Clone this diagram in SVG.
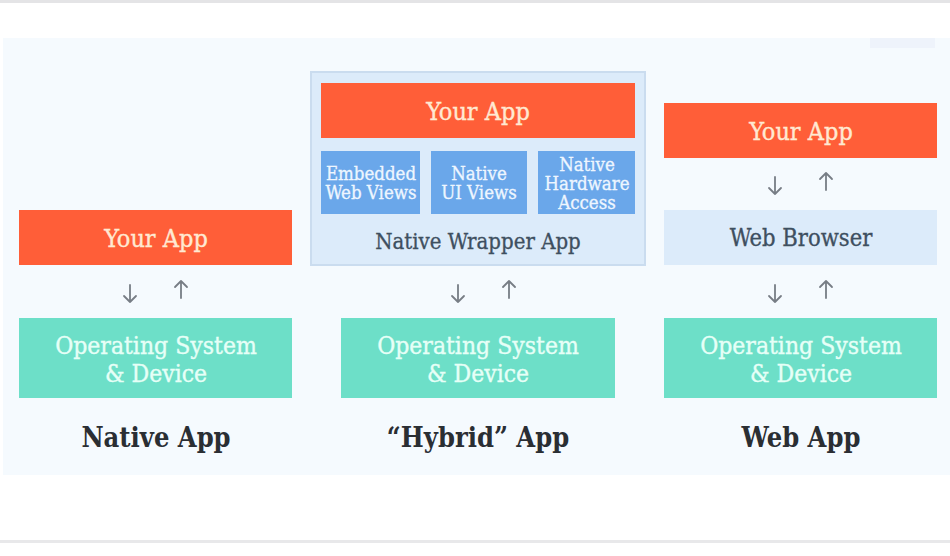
<svg xmlns="http://www.w3.org/2000/svg" width="950" height="556" viewBox="0 0 950 556">
<style>
.t{font-family:"DejaVu Serif Condensed","DejaVu Serif",serif;text-anchor:middle}
.app{fill:#ff5e38}
.appt{fill:#ffe9d2;stroke:#ffe9d2;stroke-width:0.35;font-size:25px}
.os{fill:#6ddfc8}
.ost{fill:#e6fff7;stroke:#e6fff7;stroke-width:0.35;font-size:24.5px}
.lt{fill:#dcebfa}
.ltt{fill:#3e4f60;stroke:#3e4f60;stroke-width:0.3;font-size:22px}
.bl{fill:#6aa7ea}
.blt{fill:#eef6ff;stroke:#eef6ff;stroke-width:0.3;font-size:18.5px}
.lbl{fill:#2a2e33;font-size:27px;font-weight:bold}
.ar{stroke:#777d85;stroke-width:1.8;fill:none;stroke-linecap:round;stroke-linejoin:round}
</style>
<rect width="950" height="556" fill="#ffffff"/>
<rect x="0" y="0" width="950" height="3" fill="#e4e4e6"/>
<rect x="0" y="540" width="950" height="3" fill="#e8e8ea"/>
<rect x="3" y="38" width="947" height="437" fill="#f5fafe"/>
<rect x="870" y="38" width="65" height="10" fill="#eef3fb"/>

<g id="native-app">
<rect class="app" x="19" y="210" width="273" height="55"/>
<text class="t appt" x="156" y="247">Your App</text>
</g>
<g id="native-os">
<rect class="os" x="19" y="318" width="273" height="80"/>
<text class="t ost" x="156" y="354">Operating System</text>
<text class="t ost" x="156" y="382">&amp; Device</text>
</g>
<text id="native-label" class="t lbl" x="156" y="447">Native App</text>

<g id="hybrid-wrapper">
<rect class="lt" x="311" y="72" width="334" height="193" stroke="#cadcef" stroke-width="2"/>
<text class="t ltt" x="478" y="249">Native Wrapper App</text>
</g>
<g id="hybrid-app">
<rect class="app" x="321" y="83" width="314" height="55"/>
<text class="t appt" x="478" y="120">Your App</text>
</g>
<g id="embedded-web-views">
<rect class="bl" x="321" y="151" width="99" height="63"/>
<text class="t blt" x="371" y="180">Embedded</text>
<text class="t blt" x="371" y="199">Web Views</text>
</g>
<g id="native-ui-views">
<rect class="bl" x="431" y="151" width="96" height="63"/>
<text class="t blt" x="479" y="180">Native</text>
<text class="t blt" x="479" y="199">UI Views</text>
</g>
<g id="native-hardware-access">
<rect class="bl" x="538" y="151" width="97" height="63"/>
<text class="t blt" x="587" y="171">Native</text>
<text class="t blt" x="587" y="190">Hardware</text>
<text class="t blt" x="587" y="209">Access</text>
</g>
<g id="hybrid-os">
<rect class="os" x="341" y="318" width="274" height="80"/>
<text class="t ost" x="478" y="354">Operating System</text>
<text class="t ost" x="478" y="382">&amp; Device</text>
</g>
<text id="hybrid-label" class="t lbl" x="478" y="447">“Hybrid” App</text>

<g id="web-app">
<rect class="app" x="664" y="103" width="273" height="55"/>
<text class="t appt" x="801" y="140">Your App</text>
</g>
<g id="web-browser">
<rect class="lt" x="664" y="210" width="273" height="55"/>
<text class="t ltt" x="801" y="246" style="font-size:23.5px">Web Browser</text>
</g>
<g id="web-os">
<rect class="os" x="664" y="318" width="273" height="80"/>
<text class="t ost" x="801" y="354">Operating System</text>
<text class="t ost" x="801" y="382">&amp; Device</text>
</g>
<text id="web-label" class="t lbl" x="801" y="447">Web App</text>

<g id="connectors" class="ar">
<path d="M130 285V302M124 296L130 302L136 296"/>
<path d="M181 298V281M175 287L181 281L187 287"/>
<path d="M458 285V302M452 296L458 302L464 296"/>
<path d="M509 298V281M503 287L509 281L515 287"/>
<path d="M775 177V194M769 188L775 194L781 188"/>
<path d="M826 190V173M820 179L826 173L832 179"/>
<path d="M775 285V302M769 296L775 302L781 296"/>
<path d="M826 298V281M820 287L826 281L832 287"/>
</g>
</svg>
